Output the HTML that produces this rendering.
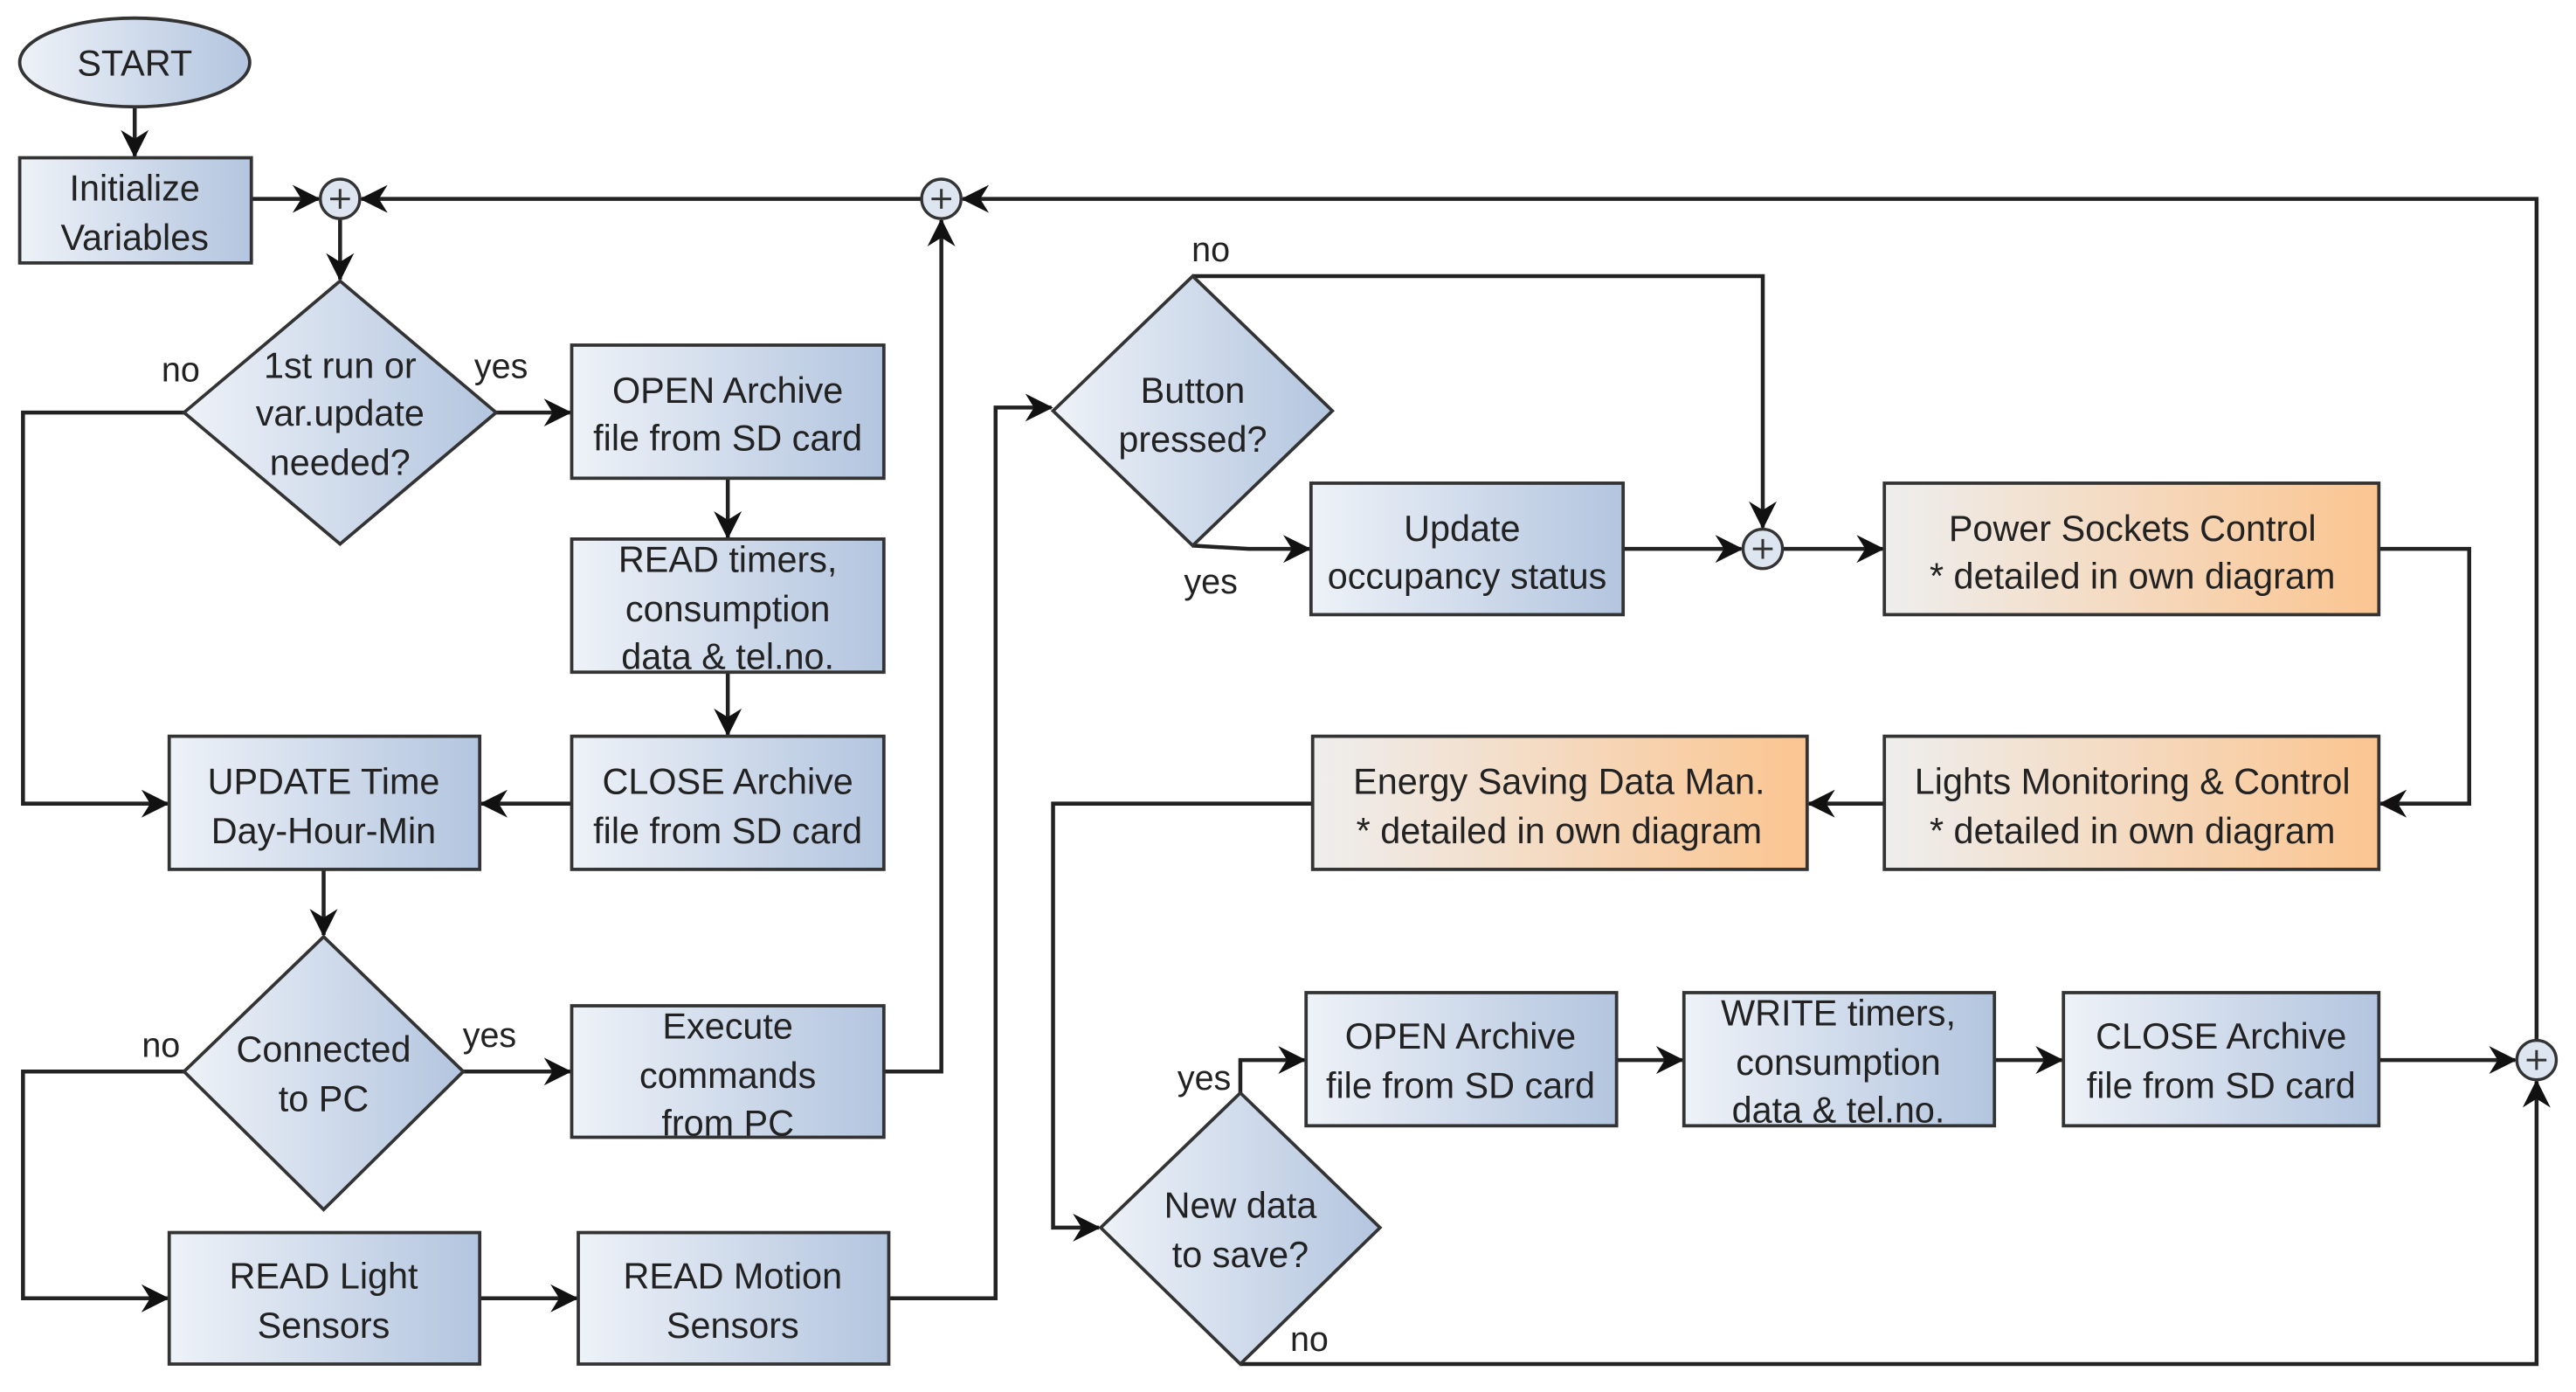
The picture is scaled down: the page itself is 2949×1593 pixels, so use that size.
<!DOCTYPE html>
<html><head><meta charset="utf-8"><style>
html,body{margin:0;padding:0;background:#fff;}
svg{display:block;}
text{font-family:"Liberation Sans",sans-serif;font-size:22px;fill:#222;text-anchor:middle;}
.lbl{font-size:21px;}
</style></head><body>
<svg width="2949" height="1593" viewBox="0 0 1568 847" preserveAspectRatio="none" xmlns="http://www.w3.org/2000/svg">
<defs>
<linearGradient id="b" x1="0" y1="0" x2="1" y2="0"><stop offset="0" stop-color="#eef2f8"/><stop offset="1" stop-color="#b3c5df"/></linearGradient>
<linearGradient id="o" x1="0" y1="0" x2="1" y2="0"><stop offset="0" stop-color="#eeeeee"/><stop offset="1" stop-color="#fbc590"/></linearGradient>
<marker id="a" viewBox="0 0 16 16" refX="15" refY="8" markerWidth="17" markerHeight="17" markerUnits="userSpaceOnUse" orient="auto"><path d="M0,0 L16,8 L0,16 L5,8 z" fill="#111"/></marker>
</defs>
<g fill="none" stroke="#222" stroke-width="2.4">
<path d="M82,65 V95" marker-end="url(#a)"/>
<path d="M153,121 H194" marker-end="url(#a)"/>
<path d="M561,121 H220" marker-end="url(#a)"/>
<path d="M207,133 V170" marker-end="url(#a)"/>
<path d="M302,251 H347" marker-end="url(#a)"/>
<path d="M112,251 H14 V489 H102" marker-end="url(#a)"/>
<path d="M443,291 V327" marker-end="url(#a)"/>
<path d="M443,409 V447" marker-end="url(#a)"/>
<path d="M348,489 H293" marker-end="url(#a)"/>
<path d="M197,529 V569" marker-end="url(#a)"/>
<path d="M282,652 H347" marker-end="url(#a)"/>
<path d="M112,652 H14 V790 H102" marker-end="url(#a)"/>
<path d="M292,790 H351" marker-end="url(#a)"/>
<path d="M538,652 H573 V134" marker-end="url(#a)"/>
<path d="M541,790 H606 V248 H640" marker-end="url(#a)"/>
<path d="M726,168 H1073 V321" marker-end="url(#a)"/>
<path d="M726,332 L760,334 H797" marker-end="url(#a)"/>
<path d="M988,334 H1060" marker-end="url(#a)"/>
<path d="M1085,334 H1146" marker-end="url(#a)"/>
<path d="M1448,334 H1503 V489 H1449" marker-end="url(#a)"/>
<path d="M1147,489 H1101" marker-end="url(#a)"/>
<path d="M799,489 H641 V747 H669" marker-end="url(#a)"/>
<path d="M755,665 V645 H794" marker-end="url(#a)"/>
<path d="M984,645 H1024" marker-end="url(#a)"/>
<path d="M1214,645 H1255" marker-end="url(#a)"/>
<path d="M1448,645 H1531" marker-end="url(#a)"/>
<path d="M755,830 H1544 V658" marker-end="url(#a)"/>
<path d="M1544,633 V121 H586" marker-end="url(#a)"/>
</g>
<g stroke="#333" stroke-width="2">
<ellipse cx="82" cy="38" rx="70" ry="27" fill="url(#b)"/>
<rect x="12" y="96" width="141" height="64" fill="url(#b)"/>
<polygon points="207,171 302,251 207,331 112,251" fill="url(#b)"/>
<rect x="348" y="210" width="190" height="81" fill="url(#b)"/>
<rect x="348" y="328" width="190" height="81" fill="url(#b)"/>
<rect x="348" y="448" width="190" height="81" fill="url(#b)"/>
<rect x="103" y="448" width="189" height="81" fill="url(#b)"/>
<polygon points="197,570 282,652 197,736 112,652" fill="url(#b)"/>
<rect x="348" y="612" width="190" height="80" fill="url(#b)"/>
<rect x="103" y="750" width="189" height="80" fill="url(#b)"/>
<rect x="352" y="750" width="189" height="80" fill="url(#b)"/>
<polygon points="726,168 811,250 726,332 641,250" fill="url(#b)"/>
<rect x="798" y="294" width="190" height="80" fill="url(#b)"/>
<rect x="1147" y="294" width="301" height="80" fill="url(#o)"/>
<rect x="1147" y="448" width="301" height="81" fill="url(#o)"/>
<rect x="799" y="448" width="301" height="81" fill="url(#o)"/>
<polygon points="755,665 840,747 755,830 670,747" fill="url(#b)"/>
<rect x="795" y="604" width="189" height="81" fill="url(#b)"/>
<rect x="1025" y="604" width="189" height="81" fill="url(#b)"/>
<rect x="1256" y="604" width="192" height="81" fill="url(#b)"/>
</g>
<g stroke="#333" stroke-width="1.8" fill="#dde5f0">
<circle cx="207" cy="121" r="12"/><circle cx="573" cy="121" r="12"/>
<circle cx="1073" cy="334" r="12"/><circle cx="1544" cy="645" r="12"/>
</g>
<g stroke="#333" stroke-width="1.6">
<path d="M201,121 H213 M207,115 V127"/><path d="M567,121 H579 M573,115 V127"/>
<path d="M1067,334 H1079 M1073,328 V340"/><path d="M1538,645 H1550 M1544,639 V651"/>
</g>
<text x="82" y="46">START</text>
<text x="82" y="122">Initialize</text><text x="82" y="152">Variables</text>
<text x="207" y="230">1st run or</text><text x="207" y="259">var.update</text><text x="207" y="289">needed?</text>
<text x="443" y="245">OPEN Archive</text><text x="443" y="274">file from SD card</text>
<text x="443" y="348">READ timers,</text><text x="443" y="378">consumption</text><text x="443" y="407">data &amp; tel.no.</text>
<text x="443" y="483">CLOSE Archive</text><text x="443" y="513">file from SD card</text>
<text x="197" y="483">UPDATE Time</text><text x="197" y="513">Day-Hour-Min</text>
<text x="197" y="646">Connected</text><text x="197" y="676">to PC</text>
<text x="443" y="632">Execute</text><text x="443" y="662">commands</text><text x="443" y="691">from PC</text>
<text x="197" y="784">READ Light</text><text x="197" y="814">Sensors</text>
<text x="446" y="784">READ Motion</text><text x="446" y="814">Sensors</text>
<text x="726" y="245">Button</text><text x="726" y="275">pressed?</text>
<text x="890" y="329">Update</text><text x="893" y="358">occupancy status</text>
<text x="1298" y="329">Power Sockets Control</text><text x="1298" y="358">* detailed in own diagram</text>
<text x="1298" y="483">Lights Monitoring &amp; Control</text><text x="1298" y="513">* detailed in own diagram</text>
<text x="949" y="483">Energy Saving Data Man.</text><text x="949" y="513">* detailed in own diagram</text>
<text x="755" y="741">New data</text><text x="755" y="771">to save?</text>
<text x="889" y="638">OPEN Archive</text><text x="889" y="668">file from SD card</text>
<text x="1119" y="624">WRITE timers,</text><text x="1119" y="654">consumption</text><text x="1119" y="683">data &amp; tel.no.</text>
<text x="1352" y="638">CLOSE Archive</text><text x="1352" y="668">file from SD card</text>
<text class="lbl" x="110" y="232">no</text><text class="lbl" x="305" y="230">yes</text>
<text class="lbl" x="98" y="643">no</text><text class="lbl" x="298" y="637">yes</text>
<text class="lbl" x="737" y="159">no</text><text class="lbl" x="737" y="361">yes</text>
<text class="lbl" x="733" y="663">yes</text><text class="lbl" x="797" y="822">no</text>
</svg>
</body></html>
